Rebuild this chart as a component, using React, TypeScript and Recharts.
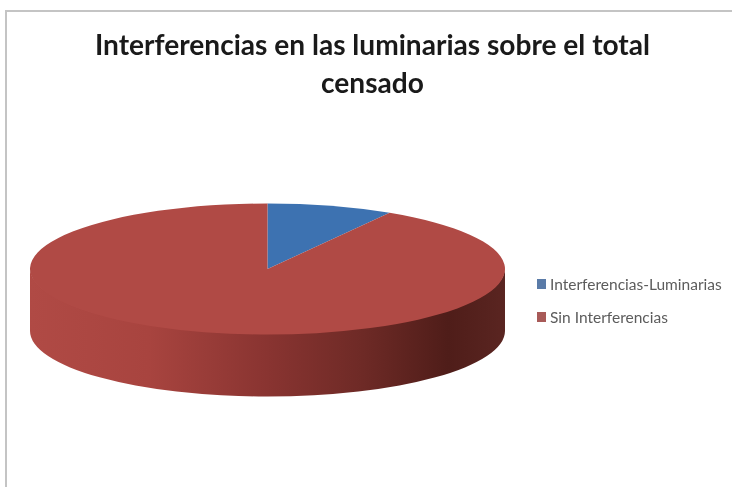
import { PieChart, Pie, Cell, Legend } from 'recharts';

const categories = ['Interferencias-Luminarias', 'Sin Interferencias'];
const values = [8.6, 91.4];
const colors = ['#3d72b1', '#b04a45'];
const legendColors = ['#5a7ba8', '#a85a58'];
const titleLines = ['Interferencias en las luminarias sobre el total', 'censado'];

const data = categories.map((name, i) => ({ name, value: values[i] }));

// tilt of the disc, the pie is drawn flat by recharts and squashed here
const squash = 0.276;
const depth = 62;

const rad = (deg: number) => (deg * Math.PI) / 180;

function Slice3D(props: any) {
    const { cx, cy, outerRadius, startAngle, endAngle, fill } = props;
    const rx = outerRadius;
    const ry = outerRadius * squash;
    const pt = (deg: number) => [cx + rx * Math.cos(rad(deg)), cy - ry * Math.sin(rad(deg))];

    const a0 = Math.max(startAngle, endAngle);
    const a1 = Math.min(startAngle, endAngle);
    const [sx, sy] = pt(a0);
    const [ex, ey] = pt(a1);
    const large = a0 - a1 > 180 ? 1 : 0;
    const top = `M${cx},${cy} L${sx},${sy} A${rx},${ry} 0 ${large} 1 ${ex},${ey} Z`;

    // front wall: the part of the slice on the lower half of the ellipse
    // its top edge sits 1px under the face so no white seam shows between them
    let wall = null;
    const from = Math.min(a0, 0);
    const to = Math.max(a1, -180);
    if (from > to) {
        const [x0, y0] = pt(from);
        const [x1, y1] = pt(to);
        wall = `M${x0},${y0 - 1} A${rx},${ry} 0 0 1 ${x1},${y1 - 1} L${x1},${y1 + depth} A${rx},${ry} 0 0 0 ${x0},${y0 + depth} Z`;
    }

    return (
        <g>
            {wall && <path d={wall} fill="url(#wallShade)" />}
            <path d={top} fill={fill} />
        </g>
    );
}

function LegendBox({ payload }: any) {
    return (
        <div style={{ fontFamily: 'Lato', fontSize: 15.5, color: '#5c5c5c' }}>
            {(payload || []).map((entry: any, i: number) => (
                <div key={entry.value} style={{ display: 'flex', alignItems: 'center', height: 20, marginBottom: 13, whiteSpace: 'nowrap' }}>
                    <span style={{ width: 9, height: 10, background: legendColors[i], marginRight: 4 }} />
                    {entry.value}
                </div>
            ))}
        </div>
    );
}

export default function App() {
    return (
        <div style={{ position: 'fixed', left: 0, top: 0, width: 732, height: 487, background: '#fff', overflow: 'hidden', filter: 'blur(0.6px)' }}>
            <div style={{ position: 'absolute', left: 5, top: 10, width: 727, height: 2, background: '#c4c4c4' }} />
            <div style={{ position: 'absolute', left: 5, top: 10, width: 2, height: 477, background: '#c4c4c4' }} />
            <div style={{ position: 'absolute', left: 0, top: 25, width: 745, textAlign: 'center', fontFamily: 'Lato', fontWeight: 700, fontSize: 28.1, lineHeight: '38px', color: '#1a1a1a', whiteSpace: 'nowrap' }}>
                {titleLines.map((line) => (
                    <div key={line}>{line}</div>
                ))}
            </div>
            <PieChart width={732} height={487} margin={{ top: 0, right: 0, bottom: 0, left: 0 }} style={{ position: 'absolute', left: 0, top: 0 }}>
                <defs>
                    <linearGradient id="wallShade" x1="0" y1="0" x2="1" y2="0">
                        <stop offset="0%" stopColor="#b04a45" />
                        <stop offset="25%" stopColor="#a8443f" />
                        <stop offset="50%" stopColor="#893431" />
                        <stop offset="70%" stopColor="#6e2a26" />
                        <stop offset="88%" stopColor="#4f1d19" />
                        <stop offset="100%" stopColor="#5a2521" />
                    </linearGradient>
                </defs>
                <Pie
                    data={data}
                    dataKey="value"
                    nameKey="name"
                    cx={267.5}
                    cy={269}
                    outerRadius={237.5}
                    startAngle={90}
                    endAngle={-270}
                    stroke="none"
                    labelLine={false}
                    shape={Slice3D}
                    isAnimationActive={false}
                >
                    {data.map((d, i) => (
                        <Cell key={d.name} fill={colors[i]} />
                    ))}
                </Pie>
                <Legend
                    layout="vertical"
                    align="right"
                    verticalAlign="top"
                    content={<LegendBox />}
                    wrapperStyle={{ left: 537, right: 'auto', top: 274, width: 190 }}
                />
            </PieChart>
        </div>
    );
}
